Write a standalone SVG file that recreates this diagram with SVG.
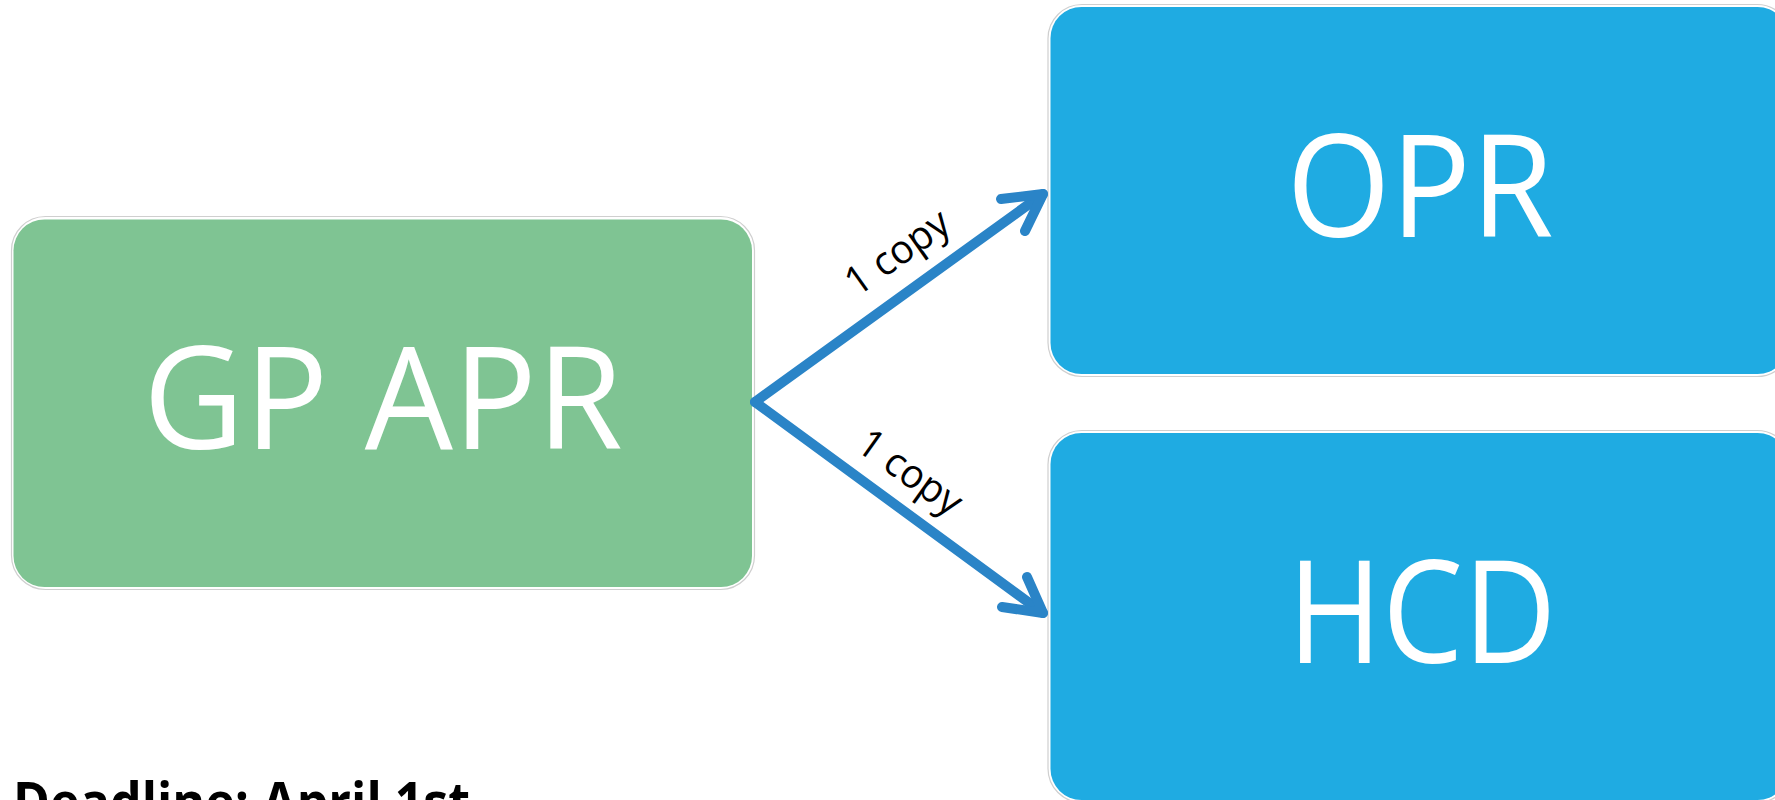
<svg xmlns="http://www.w3.org/2000/svg" width="1775" height="800" viewBox="0 0 1775 800">
  <style>
    .outline { fill: #ffffff; stroke: #cfcfcf; stroke-width: 1.2; }
    .green { fill: #7FC493; }
    .blue { fill: #1FABE2; }
    .big { font-family: "Open Sans", "Noto Sans", "Liberation Sans", sans-serif; font-size: 143px; fill: #ffffff; text-anchor: middle; }
    .edge { fill: none; stroke: #2A84C7; stroke-width: 10; stroke-linecap: round; stroke-linejoin: round; }
    .elabel { font-family: "Open Sans", "Noto Sans", "Liberation Sans", sans-serif; font-size: 40px; fill: #000000; text-anchor: middle; }
    .note { font-family: "Open Sans", "Noto Sans", "Liberation Sans", sans-serif; font-size: 54px; font-weight: bold; fill: #000000; }
  </style>
  <rect width="1775" height="800" fill="#ffffff"/>

  <g id="node-gp-apr">
    <rect class="outline" x="11.5" y="216.5" width="743" height="373" rx="34"/>
    <rect class="green" x="13.5" y="219.5" width="738.5" height="367.5" rx="31"/>
    <text class="big" x="383" y="449" textLength="480" lengthAdjust="spacingAndGlyphs">GP APR</text>
  </g>

  <g id="node-opr">
    <rect class="outline" x="1048" y="4.5" width="743" height="372" rx="34"/>
    <rect class="blue" x="1050.5" y="7" width="738" height="367" rx="31"/>
    <text class="big" x="1420" y="237" textLength="267" lengthAdjust="spacingAndGlyphs">OPR</text>
  </g>

  <g id="node-hcd">
    <rect class="outline" x="1048" y="430.5" width="743" height="372" rx="34"/>
    <rect class="blue" x="1050.5" y="433" width="738" height="367" rx="31"/>
    <text class="big" x="1422" y="663" textLength="269" lengthAdjust="spacingAndGlyphs">HCD</text>
  </g>

  <g id="connectors">
    <polyline class="edge" points="755,402 1043,194"/>
    <polyline class="edge" points="1001,199 1043,194 1025,231"/>
    <text class="elabel" transform="translate(919,283) rotate(-35.4)" x="0" y="-24" textLength="118" lengthAdjust="spacingAndGlyphs">1 copy</text>

    <polyline class="edge" points="755,402 1043,613"/>
    <polyline class="edge" points="1002,607 1043,613 1027,577"/>
    <text class="elabel" transform="translate(889,502) rotate(35.5)" x="0" y="-23" textLength="118" lengthAdjust="spacingAndGlyphs">1 copy</text>
  </g>

  <g id="note">
    <text class="note" x="13" y="821" textLength="457" lengthAdjust="spacingAndGlyphs">Deadline: April 1st</text>
  </g>
</svg>
